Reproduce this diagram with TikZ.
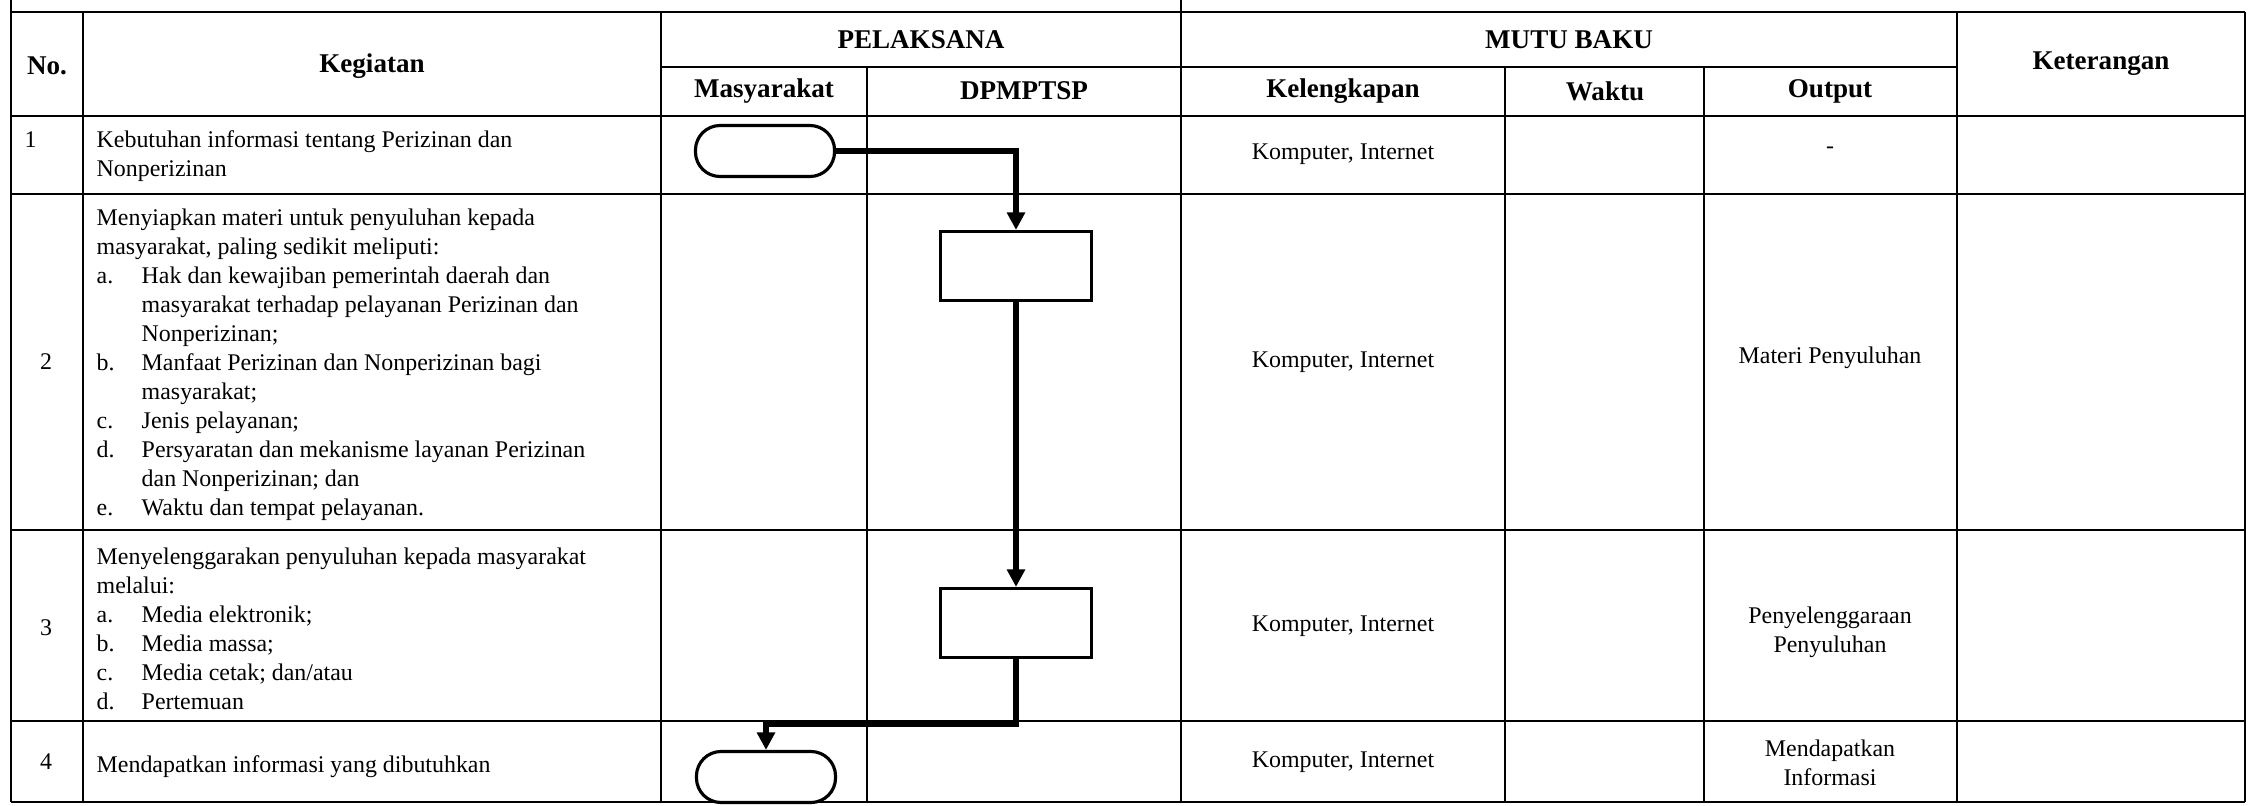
\documentclass[tikz,border=0pt]{standalone}
\usepackage{fontspec}
\setmainfont{Liberation Serif}
\usetikzlibrary{arrows.meta}

\newcommand{\bodyfont}{\fontsize{6.8pt}{8.25pt}\selectfont}
\newcommand{\headfont}{\fontsize{7.7pt}{9pt}\selectfont\bfseries}
\newcommand{\itm}[1]{\makebox[0.45cm][l]{#1}}
\newcommand{\cnt}{\hspace*{0.45cm}}

\begin{document}
\begin{tikzpicture}[x=0.01cm,y=-0.01cm,font=\bodyfont]
\tikzstyle{grid}=[line width=0.6pt]
\tikzstyle{head}=[font=\headfont, inner sep=0pt]
\tikzstyle{txt}=[anchor=north west, align=left, inner sep=0pt]
\tikzstyle{term}=[draw, line width=0.9pt, rounded corners=7pt, minimum width=1.39cm, minimum height=0.51cm]
\tikzstyle{proc}=[draw, line width=0.9pt, minimum width=1.51cm, minimum height=0.69cm]
\tikzstyle{flow}=[line width=1.9pt, -{Triangle[length=5pt,width=5pt]}]
    \useasboundingbox (0,0) rectangle (2248,806);
    % table
    \draw[grid] (11,0) -- (11,802) (1181,0) -- (1181,802);
    \foreach \x in {83,661,1957,2245} \draw[grid] (\x,12) -- (\x,802);
    \foreach \x in {867,1505,1704} \draw[grid] (\x,67) -- (\x,802);
    \foreach \y in {12,116,194,530,721,802} \draw[grid] (11,\y) -- (2245,\y);
    \draw[grid] (661,67) -- (1957,67);
    % header
    \node[head] (hno) at (47,66) {No.};
    \node[head] (hkeg) at (372,66) {Kegiatan};
    \node[head] (hpel) at (921,40) {PELAKSANA};
    \node[head] (hmutu) at (1569,40) {MUTU BAKU};
    \node[head] (hket) at (2101,64) {Keterangan};
    \node[head] (hmas) at (764,91) {Masyarakat};
    \node[head] (hdpm) at (1024,91) {DPMPTSP};
    \node[head] (hkel) at (1343,91) {Kelengkapan};
    \node[head] (hwak) at (1605,91) {Waktu};
    \node[head] (hout) at (1830,91) {Output};
    % kegiatan
    \node[txt] (no1) at (24,131) {1};
    \node (no2) at (46,362) {2};
    \node (no3) at (46,628) {3};
    \node (no4) at (46,762) {4};
    \node[txt] (keg1) at (96,130) {Kebutuhan informasi tentang Perizinan dan\\Nonperizinan};
    \node[txt] (keg2) at (96,208) {Menyiapkan materi untuk penyuluhan kepada\\
        masyarakat, paling sedikit meliputi:\\
        \itm{a.}Hak dan kewajiban pemerintah daerah dan\\
        \cnt masyarakat terhadap pelayanan Perizinan dan\\
        \cnt Nonperizinan;\\
        \itm{b.}Manfaat Perizinan dan Nonperizinan bagi\\
        \cnt masyarakat;\\
        \itm{c.}Jenis pelayanan;\\
        \itm{d.}Persyaratan dan mekanisme layanan Perizinan\\
        \cnt dan Nonperizinan; dan\\
        \itm{e.}Waktu dan tempat pelayanan.};
    \node[txt] (keg3) at (96,547) {Menyelenggarakan penyuluhan kepada masyarakat\\
        melalui:\\
        \itm{a.}Media elektronik;\\
        \itm{b.}Media massa;\\
        \itm{c.}Media cetak; dan/atau\\
        \itm{d.}Pertemuan};
    \node[txt] (keg4) at (96,755) {Mendapatkan informasi yang dibutuhkan};
    % mutu baku
    \node (kel1) at (1343,154) {Komputer, Internet};
    \node (kel2) at (1343,362) {Komputer, Internet};
    \node (kel3) at (1343,626) {Komputer, Internet};
    \node (kel4) at (1343,762) {Komputer, Internet};
    \node (out1) at (1830,150) {-};
    \node (out2) at (1830,358) {Materi Penyuluhan};
    \node[align=center] (out3) at (1830,632) {Penyelenggaraan\\Penyuluhan};
    \node[align=center] (out4) at (1830,763) {Mendapatkan\\Informasi};
    % flow
    \node[term] (t1) at (765,151) {};
    \node[proc] (a1) at (1016,266) {};
    \node[proc] (a2) at (1016,623) {};
    \node[term] (t2) at (766,777) {};
    \coordinate (bend) at (766,724);
    \draw[flow] (t1.east) -| (a1.north);
    \draw[flow] (a1.south) -- (a2.north);
    \draw[flow] (a2.south) |- (bend) -- (t2.north);
\end{tikzpicture}
\end{document}
